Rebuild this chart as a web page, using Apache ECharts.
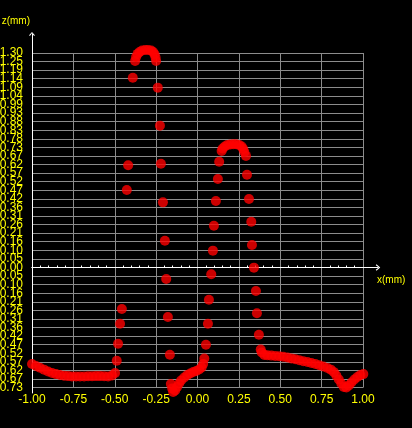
<!DOCTYPE html>
<html>
<head>
<meta charset="utf-8">
<script src="https://cdn.jsdelivr.net/npm/echarts@6.0.0/dist/echarts.min.js"></script>
<style>
  html, body { margin: 0; padding: 0; background: #000; }
  #chart { width: 412px; height: 428px; }
</style>
</head>
<body>
<div id="chart"></div>
<script>
// tick labels
const xTickLabels = ['-1.00', '-0.75', '-0.50', '-0.25', '0.00', '0.25', '0.50', '0.75', '1.00']
const xStep = 0.25
const yStep = 0.0519
const yTickLabels = [
  '-0.73', '-0.67', '-0.62', '-0.57', '-0.52', '-0.47', '-0.42', '-0.36', '-0.31', '-0.26',
  '-0.21', '-0.16', '-0.10', '-0.05', '0.00', '0.05', '0.10', '0.16', '0.21', '0.26',
  '0.31', '0.36', '0.42', '0.47', '0.52', '0.57', '0.62', '0.67', '0.73', '0.78',
  '0.83', '0.88', '0.93', '0.99', '1.04', '1.09', '1.14', '1.19', '1.25', '1.30'
]

// measured profile points [x mm, z mm]
const leftFloor = [
  [-1.000, -0.584], [-0.976, -0.596], [-0.952, -0.607], [-0.927, -0.618], [-0.903, -0.629],
  [-0.879, -0.638], [-0.855, -0.645], [-0.831, -0.650], [-0.806, -0.655], [-0.782, -0.657],
  [-0.758, -0.659], [-0.734, -0.659], [-0.710, -0.659], [-0.685, -0.659], [-0.661, -0.658],
  [-0.637, -0.658], [-0.613, -0.657], [-0.589, -0.657], [-0.564, -0.658], [-0.540, -0.659],
  [-0.516, -0.653], [-0.498, -0.638]
]
const leftTipOuter = [
  [-0.488, -0.564], [-0.480, -0.461], [-0.468, -0.340], [-0.457, -0.251],
  [-0.427, 0.469], [-0.419, 0.618], [-0.391, 1.148], [-0.377, 1.249]
]
const leftTipCap = [
  [-0.371, 1.273], [-0.362, 1.292], [-0.350, 1.304], [-0.335, 1.313], [-0.316, 1.316],
  [-0.298, 1.316], [-0.280, 1.313], [-0.268, 1.304], [-0.259, 1.289], [-0.253, 1.270]
]
const leftTipInner = [
  [-0.250, 1.249], [-0.240, 1.088], [-0.227, 0.858], [-0.221, 0.628], [-0.209, 0.394],
  [-0.197, 0.162], [-0.189, -0.070], [-0.179, -0.299], [-0.167, -0.528]
]
const midFloor = [
  [-0.161, -0.705], [-0.153, -0.732], [-0.147, -0.753], [-0.135, -0.744], [-0.123, -0.723],
  [-0.111, -0.702], [-0.099, -0.684], [-0.080, -0.665], [-0.062, -0.650], [-0.044, -0.641],
  [-0.026, -0.632], [-0.008, -0.626], [0.010, -0.617], [0.025, -0.605], [0.034, -0.584],
  [0.041, -0.551]
]
const rightTipInner = [
  [0.051, -0.467], [0.063, -0.340], [0.069, -0.195], [0.083, -0.041], [0.093, 0.102],
  [0.099, 0.253], [0.111, 0.402], [0.123, 0.535], [0.131, 0.640]
]
const rightTipCap = [
  [0.146, 0.705], [0.152, 0.720], [0.165, 0.732], [0.180, 0.741], [0.198, 0.744],
  [0.216, 0.745], [0.234, 0.745], [0.252, 0.741], [0.267, 0.732], [0.276, 0.717],
  [0.283, 0.699]
]
const rightTipOuter = [
  [0.293, 0.675], [0.299, 0.561], [0.311, 0.414], [0.325, 0.277], [0.329, 0.136],
  [0.341, -0.001], [0.353, -0.142], [0.359, -0.277], [0.371, -0.407], [0.382, -0.496]
]
const rightFloor = [
  [0.388, -0.514], [0.404, -0.529], [0.422, -0.531], [0.446, -0.533], [0.470, -0.535],
  [0.494, -0.537], [0.518, -0.540], [0.543, -0.545], [0.567, -0.550], [0.591, -0.555],
  [0.615, -0.561], [0.639, -0.567], [0.664, -0.572], [0.688, -0.578], [0.712, -0.584],
  [0.736, -0.591], [0.760, -0.599], [0.785, -0.608], [0.806, -0.618], [0.824, -0.633],
  [0.839, -0.654], [0.854, -0.678], [0.869, -0.702], [0.884, -0.723], [0.900, -0.726],
  [0.915, -0.714], [0.930, -0.696], [0.948, -0.678], [0.966, -0.663], [0.984, -0.651],
  [1.002, -0.645]
]

const segments = [leftFloor, leftTipOuter, leftTipCap, leftTipInner, midFloor,
  rightTipInner, rightTipCap, rightTipOuter, rightFloor]

const yellow = '#ffff00'
const gridGray = '#8c8c8c'
const labelFont = { color: yellow, fontFamily: 'Liberation Sans', fontSize: 12 }
const nameFont = { color: yellow, fontFamily: 'Liberation Sans', fontSize: 10 }
const chevron = 'path://M0,4 L3.5,0 L7,4 L6,4.8 L3.5,1.6 L1,4.8 Z'

const chart = echarts.init(document.getElementById('chart'), null, { renderer: 'canvas' })

chart.setOption({
  backgroundColor: '#000',
  animation: false,
  grid: [
    { left: 32, right: 49, top: 53, bottom: 40.4, outerBoundsMode: 'none' },
    { left: 32, right: 34, top: 34, bottom: 35, outerBoundsMode: 'none' }
  ],
  xAxis: [
    {
      type: 'value',
      gridIndex: 0,
      min: -1,
      max: 1,
      interval: xStep,
      axisLine: { show: true, onZero: true, onZeroAxisIndex: 0, lineStyle: { color: '#fff', width: 1 } },
      axisTick: { show: false, inside: true },
      minorTick: { show: true, splitNumber: 5, length: 2, lineStyle: { color: '#fff', width: 1 } },
      axisLabel: {
        ...labelFont,
        margin: 6,
        showMinLabel: true,
        showMaxLabel: true,
        formatter: v => xTickLabels[Math.round((v + 1) / xStep)] ?? ''
      },
      splitLine: { show: true, lineStyle: { color: gridGray, width: 1 } }
    },
    {
      type: 'value',
      gridIndex: 1,
      min: -1,
      max: 1.0906,
      axisLine: {
        show: true, onZero: true,
        symbol: ['none', chevron], symbolSize: [7, 4.5],
        lineStyle: { color: '#fff', width: 1 }
      },
      axisTick: { show: false },
      axisLabel: { show: false },
      splitLine: { show: false },
      name: 'x(mm)',
      nameLocation: 'end',
      nameGap: -1,
      nameTextStyle: { ...nameFont, align: 'left', verticalAlign: 'top', padding: [8, 0, 0, 0] }
    }
  ],
  yAxis: [
    {
      // value scale for the points
      type: 'value',
      gridIndex: 0,
      position: 'left',
      min: -14 * yStep,
      max: 25 * yStep,
      interval: yStep,
      axisLine: { show: true, onZero: false, lineStyle: { color: '#fff', width: 1 } },
      axisTick: { show: false },
      axisLabel: { show: false },
      splitLine: { show: false }
    },
    {
      type: 'value',
      gridIndex: 1,
      min: -0.7592,
      max: 1.4126,
      axisLine: {
        show: true, onZero: false,
        symbol: ['none', chevron], symbolSize: [7, 4],
        lineStyle: { color: '#fff', width: 1 }
      },
      axisTick: { show: false },
      axisLabel: { show: false },
      splitLine: { show: false },
      name: 'z(mm)',
      nameLocation: 'end',
      nameGap: 13,
      nameTextStyle: { ...nameFont, align: 'right', verticalAlign: 'middle', padding: [0, 2, 0, 0] }
    },
    {
      // tick labels and horizontal grid lines, one per step
      type: 'category',
      gridIndex: 0,
      position: 'left',
      data: yTickLabels,
      boundaryGap: false,
      axisLine: { show: false, onZero: false },
      axisTick: { show: false },
      axisLabel: { ...labelFont, margin: 9, interval: 0 },
      splitLine: { show: true, interval: 0, lineStyle: { color: gridGray, width: 1 } }
    }
  ],
  series: segments.map(seg => ({
    type: 'scatter',
    xAxisIndex: 0,
    yAxisIndex: 0,
    data: seg,
    symbol: 'circle',
    symbolSize: 10,
    clip: false,
    itemStyle: { color: '#ff0000' },
    silent: true
  }))
})
</script>
</body>
</html>
